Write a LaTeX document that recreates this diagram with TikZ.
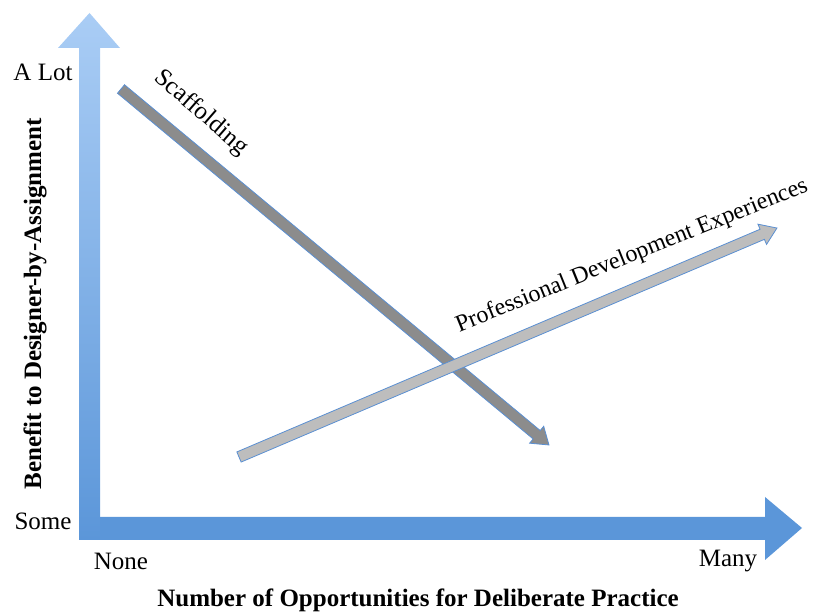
\documentclass[tikz,border=0pt]{standalone}
\usepackage{fontspec}
\setmainfont{Liberation Serif}
\usetikzlibrary{calc}
\usetikzlibrary{positioning}

\definecolor{axisblue}{HTML}{5B96D9}
\definecolor{axislight}{HTML}{AACDF5}
\definecolor{edgeblue}{HTML}{5A8FD2}
\definecolor{darkbar}{HTML}{8C8C8C}
\definecolor{lightbar}{HTML}{BDBDBD}

\tikzset{
  label/.style={font=\fontsize{25}{30}\selectfont, inner sep=0pt},
  axislabel/.style={font=\bfseries\fontsize{25}{30}\selectfont, inner sep=0pt},
  bar/.style={draw=edgeblue, line width=0.8pt}
}

% thin arrow with a gray body, from #2 to #3
\newcommand{\bararrow}[3]{%
  \path let \p1=($(#3)-(#2)$), \n1={atan2(\y1,\x1)}, \n2={veclen(\x1,\y1)} in
    [bar, fill=#1, shift={(#2)}, rotate=\n1]
    (0,-5.5) -- (\n2-16,-5.5) -- (\n2-16,-11) -- (\n2,0) -- (\n2-16,11) -- (\n2-16,5.5) -- (0,5.5) -- cycle;}

\begin{document}
\begin{tikzpicture}[x=1pt,y=1pt]
  \useasboundingbox (0,0) rectangle (817,613);

  % axes
  \fill[axisblue] (79,73) -- (765,73) -- (765,53) -- (802,85) -- (765,116) -- (765,96) -- (79,96) -- cycle;
  \shade[top color=axislight, bottom color=axisblue]
    (79,73) -- (100,73) -- (100,565) -- (120,565) -- (89.5,600) -- (58,565) -- (79,565) -- cycle;

  \coordinate (scafStart) at (121,524);
  \coordinate (scafEnd) at (549,168);
  \coordinate (profStart) at (239,156);
  \coordinate (profEnd) at (777,385);

  \bararrow{darkbar}{scafStart}{scafEnd}
  \bararrow{lightbar}{profStart}{profEnd}

  % tick labels
  \node[label] (alot) at (43,541) {A Lot};
  \node[label] (some) at (43,92) {Some};
  \node[label] (none) at (121,52) {None};
  \node[label] (many) at (728,52) {Many};

  \node[axislabel, rotate=90] (ytitle) at (35,309) {Benefit to Designer-by-Assignment};
  \node[axislabel] (xtitle) at (418,13) {Number of Opportunities for Deliberate Practice};

  \node[label, rotate=-41] (scaf) at (201,500) {Scaffolding};
  \node[label, font=\fontsize{24}{28}\selectfont, rotate=22] (prof) at (632,357) {Professional Development Experiences};
\end{tikzpicture}
\end{document}
